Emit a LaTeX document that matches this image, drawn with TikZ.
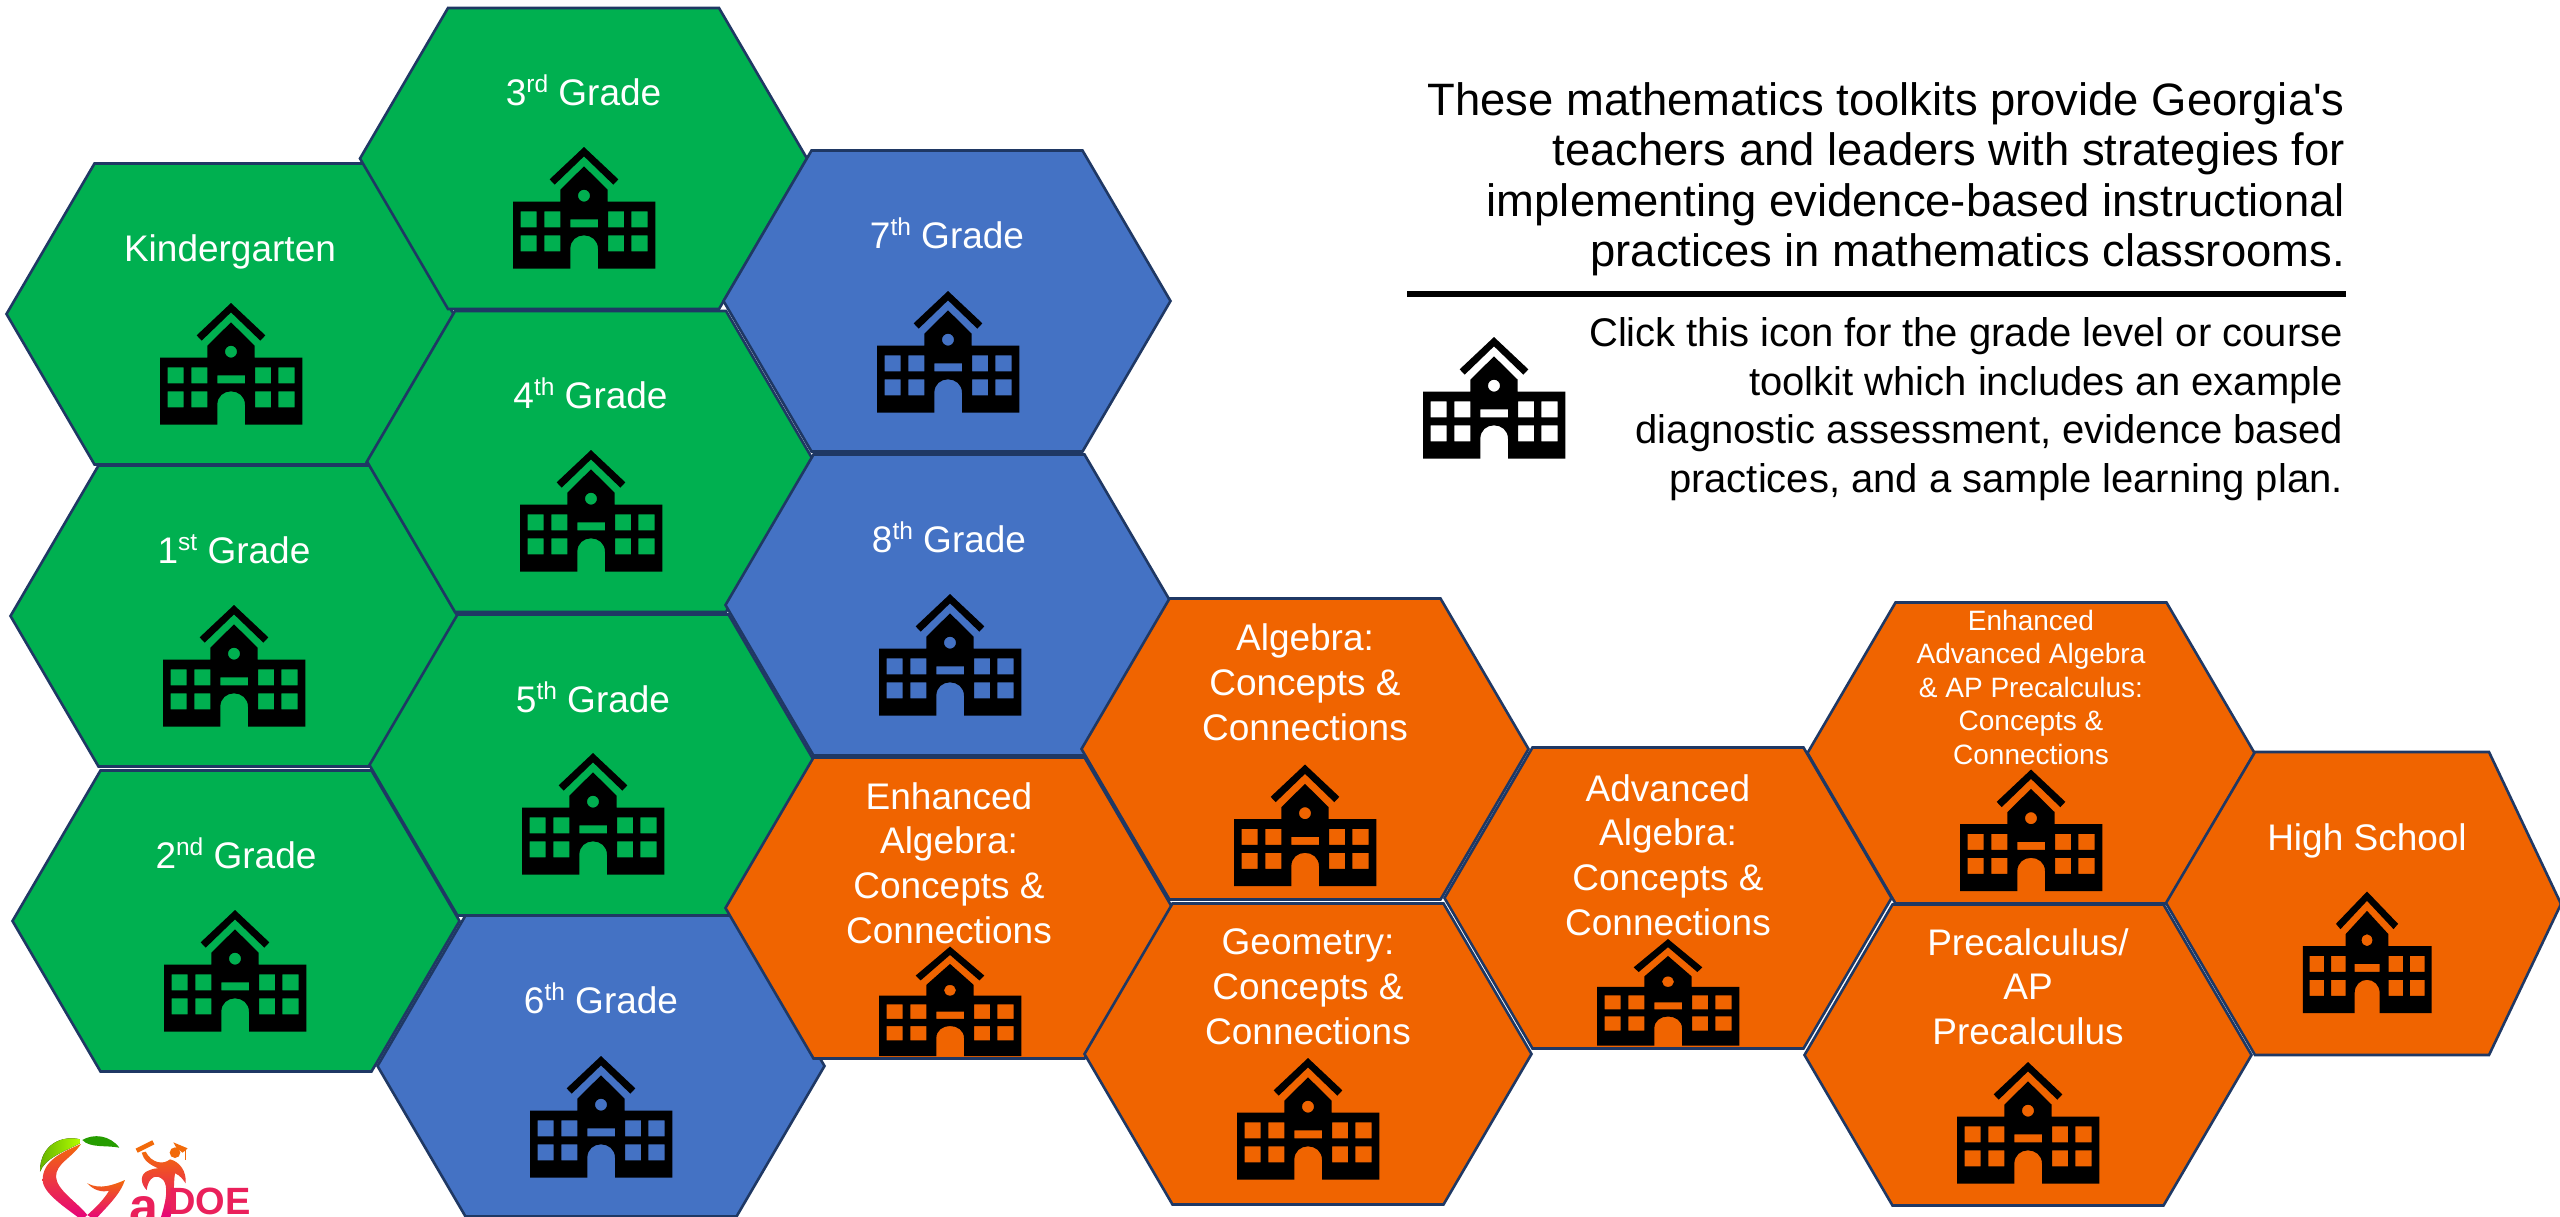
\documentclass[tikz,border=0pt]{standalone}
\usepackage{fontspec}
\setmainfont{Liberation Sans}[Ligatures=TeXOff]
\definecolor{hexgreen}{HTML}{00B050}
\definecolor{hexblue}{HTML}{4472C4}
\definecolor{hexorange}{HTML}{F06400}
\definecolor{hexline}{HTML}{1F3864}
\definecolor{logoorange}{HTML}{F26A0A}
\definecolor{logopink}{HTML}{E6007E}
\newcommand{\supr}[1]{\raisebox{0.34em}{\fontsize{24.5}{24.5}\selectfont #1}}
\newcommand{\hexa}[3]{\draw[hexedge,fill=#1] ({#2-223.5},#3) -- ({#2-135.5},{#3-150.5}) -- ({#2+135.5},{#3-150.5}) -- ({#2+223.5},#3) -- ({#2+135.5},{#3+150.5}) -- ({#2-135.5},{#3+150.5}) -- cycle;}
% school icon: #1 centre x, #2 top y, #3 x factor, #4 y factor
\newcommand{\school}[4]{\begin{scope}[shift={(#1,#2)},xscale=#3/3,yscale=#4/3]
\fill[black,even odd rule]
 (-213,164) -- (-71,164) -- (-71,128) -- (0,58) -- (71,128) -- (71,164) -- (214,164) -- (214,365) -- (42,365) -- (42,305)
 .. controls (42,280) and (22,265) .. (0,265) .. controls (-22,265) and (-41,280) .. (-41,305) -- (-41,365) -- (-213,365) -- cycle
 (0,0) -- (103,97) -- (88,113) -- (0,28) -- (-88,113) -- (-103,97) -- cycle
 (-190,193) rectangle (-142,241) (-119,193) rectangle (-71,241) (72,193) rectangle (120,241) (142,193) rectangle (191,241)
 (-190,265) rectangle (-142,313) (-119,265) rectangle (-71,313) (72,265) rectangle (120,313) (142,265) rectangle (191,313)
 (-41,217) rectangle (42,241)
 (0,146) circle[radius=18];
\end{scope}}
\tikzset{
 hexedge/.style={draw=hexline,line width=2.6pt,line join=miter},
 lab/.style={text=white,font=\fontsize{37}{44.6}\selectfont,align=center,inner sep=0pt,anchor=base},
 smalllab/.style={text=white,font=\fontsize{28}{33.5}\selectfont,align=center,inner sep=0pt,anchor=base},
 headtext/.style={text=black,font=\fontsize{45.4}{50.5}\selectfont,align=right,inner sep=0pt,anchor=base east},
 clicktext/.style={text=black,font=\fontsize{40}{48.4}\selectfont,align=right,inner sep=0pt,anchor=base east},
 logofill/.style={top color=logoorange,bottom color=logopink,draw=none},
 logotext/.style={text=logopink!70!logoorange,font=\bfseries,inner sep=0pt,anchor=base west}
}
\begin{document}
\begin{tikzpicture}[x=1pt,y=-1pt]
\useasboundingbox (0,0) rectangle (2560,1216);
\clip (0,0) rectangle (2560,1216);
\fill[white] (0,0) rectangle (2560,1216);
% green
\hexa{hexgreen}{230}{314}
\hexa{hexgreen}{234}{616}
\hexa{hexgreen}{236}{921}
\hexa{hexgreen}{583.5}{158.5}
\hexa{hexgreen}{590.5}{461.5}
\hexa{hexgreen}{593}{765}
% blue
\hexa{hexblue}{601}{1066}
\hexa{hexblue}{947}{301}
\hexa{hexblue}{949}{605}
% orange
\hexa{hexorange}{949}{908}
\hexa{hexorange}{1305}{749}
\hexa{hexorange}{1308}{1054}
\hexa{hexorange}{1668}{898}
\hexa{hexorange}{2031}{753}
\hexa{hexorange}{2028}{1055}
\draw[hexedge,fill=hexorange] (2166,903) -- (2255,752) -- (2489,752) -- (2561,904) -- (2489,1055) -- (2255,1055) -- cycle;
% labels
\node[lab] (kg) at (230,261) {Kindergarten};
\node[lab] (g1) at (234,563) {1\supr{st} Grade};
\node[lab] (g2) at (236,868) {2\supr{nd} Grade};
\node[lab] (g3) at (583.5,105.5) {3\supr{rd} Grade};
\node[lab] (g4) at (590.5,408) {4\supr{th} Grade};
\node[lab] (g5) at (593,712) {5\supr{th} Grade};
\node[lab] (g6) at (601,1013) {6\supr{th} Grade};
\node[lab] (g7) at (947,248) {7\supr{th} Grade};
\node[lab] (g8) at (949,552) {8\supr{th} Grade};
\node[lab] (ea) at (949,943) {Enhanced\\Algebra:\\Concepts \&\\Connections};
\node[lab] (al) at (1305,740) {Algebra:\\Concepts \&\\Connections};
\node[lab] (ge) at (1308,1044) {Geometry:\\Concepts \&\\Connections};
\node[lab] (aa) at (1668,935) {Advanced\\Algebra:\\Concepts \&\\Connections};
\node[smalllab] (eaa) at (2031,764) {Enhanced\\Advanced Algebra\\\& AP Precalculus:\\Concepts \&\\Connections};
\node[lab] (pc) at (2028,1044.5) {Precalculus/\\AP\\Precalculus};
\node[lab] (hs) at (2367,850) {High School};
% icons
\school{231}{303}{1}{1}
\school{234}{605}{1}{1}
\school{235}{910}{1}{1}
\school{584}{147}{1}{1}
\school{591}{450}{1}{1}
\school{593}{753}{1}{1}
\school{601}{1056}{1}{1}
\school{948}{291}{1}{1}
\school{950}{594}{1}{1}
\school{950}{946.5}{1}{0.9}
\school{1305}{764.5}{1}{1}
\school{1308}{1058}{1}{1}
\school{1668}{939}{1}{0.877}
\school{2031}{769.5}{1}{1}
\school{2028}{1062}{1}{1}
\school{2367}{891.5}{0.905}{1}
\school{1494}{337}{1}{1}
% header text
\node[headtext] (head) at (2345,266.7) {These mathematics toolkits provide Georgia's\\teachers and leaders with strategies for\\implementing evidence-based instructional\\practices in mathematics classrooms.};
\coordinate (ruleL) at (1407,293.5);
\coordinate (ruleR) at (2346,293.5);
\draw[black,line width=6pt] (ruleL) -- (ruleR);
\node[clicktext] (click) at (2343,492) {Click this icon for the grade level or course\\toolkit which includes an example\\diagnostic assessment, evidence based\\practices, and a sample learning plan.};
% logo
\begin{scope}[shift={(0,1080)},scale=1/3]
\fill[left color=green!50!black!60!yellow,right color=yellow!70!green] (240,178) .. controls (190,165) and (120,190) .. (120,275) .. controls (135,235) and (190,215) .. (240,190) -- cycle;
\fill[color=green!55!black!85!yellow] (247,180) .. controls (280,160) and (330,165) .. (358,203) .. controls (320,195) and (270,205) .. (247,180) -- cycle;
\shade[logofill] (243,192) .. controls (190,215) and (128,240) .. (128,300) .. controls (128,340) and (200,385) .. (245,420) -- (262,405) .. controls (230,365) and (170,330) .. (168,290) .. controls (168,250) and (215,235) .. (243,192) -- cycle;
\shade[logofill] (262,310) .. controls (300,330) and (340,315) .. (375,300) .. controls (360,345) and (320,380) .. (285,420) -- (262,405) .. controls (285,385) and (315,355) .. (327,332) .. controls (305,338) and (280,330) .. (262,310) -- cycle;
\fill[logoorange] (525,218) circle[radius=16];
\shade[logofill] (437,215) .. controls (455,250) and (490,255) .. (510,238) .. controls (540,245) and (560,275) .. (557,310) .. controls (550,300) and (540,285) .. (525,280) .. controls (520,310) and (525,340) .. (510,420) -- (480,420) .. controls (500,360) and (505,320) .. (490,300) .. controls (470,280) and (445,290) .. (440,330) .. controls (420,310) and (420,280) .. (445,272) .. controls (460,265) and (470,265) .. (475,265) .. controls (450,255) and (430,240) .. (425,218) -- cycle;
\draw[logoorange,line width=4.5pt] (410,212) -- (460,187);
\fill[logoorange] (520,187) -- (563,205) -- (548,218) -- (530,205) -- cycle;
\draw[logoorange,line width=1.5pt] (556,205) -- (556,240);
\end{scope}
\node[logotext,font=\bfseries\fontsize{52}{52}\selectfont] (ga) at (129,1224) {a};
\node[logotext,font=\bfseries\fontsize{38}{38}\selectfont] (doe) at (168,1214) {DOE};
\end{tikzpicture}
\end{document}
